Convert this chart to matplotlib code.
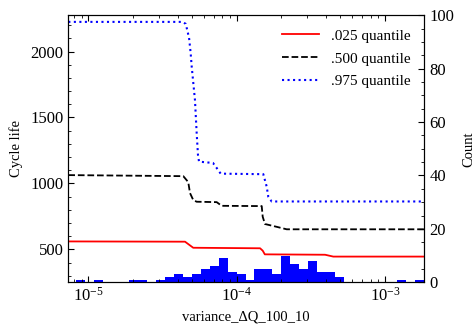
import numpy as np
import matplotlib
matplotlib.use('Agg')
import matplotlib.pyplot as plt
from matplotlib.ticker import AutoMinorLocator

plt.rcParams['font.family'] = ['Liberation Serif', 'DejaVu Serif']
plt.rcParams['mathtext.fontset'] = 'stix'
plt.rcParams['font.size'] = 10.5
plt.rcParams['xtick.labelsize'] = 12
plt.rcParams['ytick.labelsize'] = 12

# quantile curves (x = variance of dQ, y = cycle life)
q025_x = [7.33e-6, 4.49e-5, 4.85e-5, 5.10e-5, 1.44e-4, 1.50e-4, 1.55e-4, 3.95e-4, 4.49e-4, 1.844e-3]
q025_y = [560, 558, 530, 512, 508, 490, 462, 459, 445, 445]

q500_x = [7.33e-6, 4.37e-5, 4.72e-5, 4.85e-5, 5.10e-5, 5.38e-5, 7.34e-5, 7.93e-5,
          1.477e-4, 1.50e-4, 1.554e-4, 1.768e-4, 2.177e-4, 1.844e-3]
q500_y = [1063, 1055, 1010, 927, 874, 861, 858, 830, 828, 747, 692, 677, 652, 652]

q975_x = [7.33e-6, 4.30e-5, 4.54e-5, 4.78e-5, 4.90e-5, 4.98e-5, 5.24e-5, 5.38e-5, 5.49e-5,
          5.58e-5, 6.93e-5, 7.34e-5, 7.81e-5, 1.514e-4, 1.596e-4, 1.636e-4, 1.724e-4, 1.844e-3]
q975_y = [2225, 2225, 2210, 2104, 1988, 1886, 1631, 1381, 1215, 1165, 1155, 1117, 1074,
          1070, 975, 899, 863, 863]

# histogram of the feature (counts per log-spaced bin)
hist_lo = 8.22e-6
hist_hi = 1.844e-3
counts = [1, 0, 1, 0, 0, 0, 1, 1, 0, 1, 2, 3, 2, 3, 5, 6, 9, 4, 3, 1,
          5, 5, 3, 10, 7, 5, 8, 4, 4, 2, 0, 0, 0, 0, 0, 0, 1, 0, 1]

edges = np.logspace(np.log10(hist_lo), np.log10(hist_hi), len(counts) + 1)

fig = plt.figure(figsize=(4.77, 3.24), dpi=100)
ax = fig.add_axes([0.1432, 0.1287, 0.7463, 0.8241])
ax2 = ax.twinx()

ax2.bar(edges[:-1], counts, width=np.diff(edges), align='edge', color='#0000ff', linewidth=0)
ax2.set_ylim(0, 100)
ax2.set_ylabel('Count', labelpad=6)
ax2.yaxis.set_minor_locator(AutoMinorLocator(4))
ax2.tick_params(which='both', direction='in')
ax2.tick_params(which='major', length=4)
ax2.tick_params(which='minor', length=2)

ax.set_zorder(ax2.get_zorder() + 1)
ax.patch.set_visible(False)

ax.plot(q025_x, q025_y, color='red', linestyle='-', lw=1.3, label='.025 quantile')
ax.plot(q500_x, q500_y, color='black', linestyle='--', lw=1.3, label='.500 quantile')
ax.plot(q975_x, q975_y, color='blue', linestyle=':', lw=1.5, label='.975 quantile')

ax.set_xscale('log')
ax.set_xlim(7.33e-6, 1.844e-3)
ax.set_ylim(250, 2275)
ax.set_yticks([500, 1000, 1500, 2000])
ax.yaxis.set_minor_locator(AutoMinorLocator(5))
ax.set_xlabel('variance_ΔQ_100_10')
ax.set_ylabel('Cycle life', labelpad=5)
ax.tick_params(which='both', direction='in', top=True)
ax.tick_params(which='major', length=4)
ax.tick_params(which='minor', length=2)

ax.legend(loc='upper right', frameon=False, fontsize=11, handlelength=2.4,
          labelspacing=0.6, borderaxespad=0.5)

fig.savefig('out.png', dpi=100)
